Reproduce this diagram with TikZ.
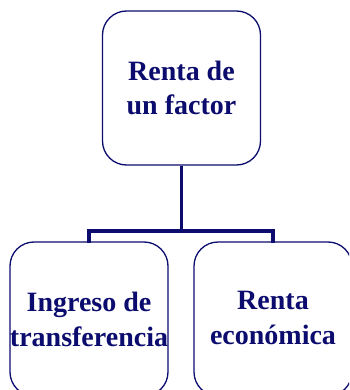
\documentclass[tikz,border=0pt]{standalone}
\usepackage{fontspec}
\setmainfont{Liberation Serif}
\definecolor{navyc}{RGB}{12,12,110}
\tikzset{
  box/.style={draw=navyc, line width=1.3pt, fill=white, rectangle, rounded corners=24pt,
    minimum width=158pt, minimum height=154pt, inner sep=0pt},
  lbl/.style={text=navyc, font=\fontsize{28}{35}\selectfont\bfseries, align=center, inner sep=0pt},
  conn/.style={draw=navyc, line width=3.5pt}
}
\begin{document}
\begin{tikzpicture}[x=1pt,y=-1pt]
\useasboundingbox (0,0) rectangle (349,390);
\clip (0,0) rectangle (349,390);
\node[box] (top) at (181.5,88) {};
\node[box] (left) at (89,319) {};
\node[box] (right) at (273,319) {};
\node[lbl, font=\fontsize{28}{34}\selectfont\bfseries] (toplbl) at (181.5,88) {Renta de\\un factor};
\node[lbl] (leftlbl) at (89,319) {Ingreso de\\transferencia};
\node[lbl] (rightlbl) at (273,318) {Renta\\económica};
\coordinate (j) at (181.5,231);
\draw[conn] (top.south) -- (j);
\draw[conn, line cap=rect] (left.north) |- (j) -| (right.north);
\end{tikzpicture}
\end{document}
